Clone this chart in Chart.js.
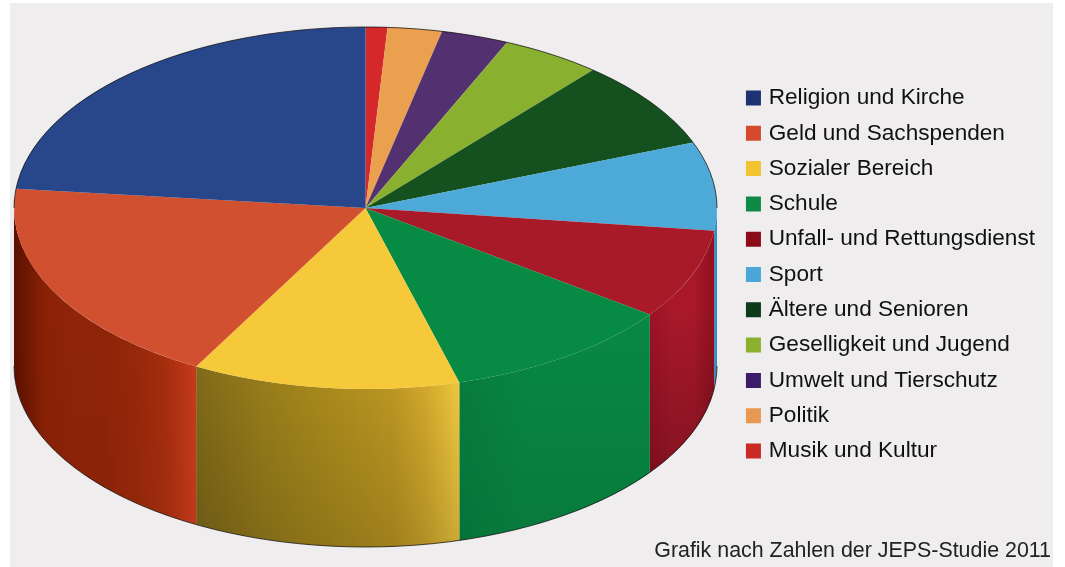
<!DOCTYPE html>
<html lang="de">
<head>
<meta charset="utf-8">
<title>Engagement nach Bereichen</title>
<script src="https://cdn.jsdelivr.net/npm/chart.js@4"></script>
<style>
  html, body { margin: 0; background: #fff; }
  #panel { position: absolute; left: 10px; top: 3px; width: 1043px; height: 564px; background: #efedee; }
  #pie { position: absolute; left: 0; top: 0; }
</style>
</head>
<body>
<div id="panel"></div>
<canvas id="pie" width="1065" height="567"></canvas>
<script>
// Slices run clockwise from twelve o'clock, the legend lists them the other way round
const categories = ['Musik und Kultur', 'Politik', 'Umwelt und Tierschutz', 'Geselligkeit und Jugend',
  'Ältere und Senioren', 'Sport', 'Unfall- und Rettungsdienst', 'Schule', 'Sozialer Bereich',
  'Geld und Sachspenden', 'Religion und Kirche'];
const shares = [1.0, 2.5, 3.1, 4.6, 7.9, 7.9, 8.0, 10.7, 12.3, 18.7, 23.3];
const sourceNote = 'Grafik nach Zahlen der JEPS-Studie 2011';

const topColors = ['#d5282a', '#eba050', '#53306f', '#8ab030', '#15501f', '#4daad8',
  '#a81a28', '#078a44', '#f5c93a', '#d15030', '#27478a'];
const legendColors = ['#c92a26', '#e89850', '#3c1c68', '#8bb030', '#0d3a1a', '#4aa7d7',
  '#8a0c1a', '#0f8a45', '#f3c431', '#d64a2c', '#1e3272'];

// Wall shading, left to right across each visible wall, plus darkening towards the floor
const wallStops = {
  'Sport': ['#2f96cc', '#2a8cc2'],
  'Unfall- und Rettungsdienst': ['#9c1226', '#a8182a', '#a8182a', '#90101f'],
  'Schule': ['#077f3e', '#088843', '#088843', '#088843'],
  'Sozialer Bereich': ['#86701a', '#94791b', '#a0841c', '#aa8c1d', '#b4931e', '#bd9a21', '#c8a025', '#e0b42f', '#fdd442'],
  'Geld und Sachspenden': ['#5a1000', '#8a2106', '#8f2408', '#8f2408', '#97280a', '#a62d0e', '#c63c1c']
};
const wallFade = { 'Sport': 0, 'Unfall- und Rettungsdienst': 0.3, 'Schule': 0.1, 'Sozialer Bereich': 0.2, 'Geld und Sachspenden': 0.04 };

const centerX = 365.5;
const centerY = 208;
const radiusX = 351.5;
const radiusY = 181;
const wallDepth = 158;

const legendShiftX = -6;
const legendShiftY = -14.5;

function wallPath(ctx, from, to) {
  ctx.beginPath();
  ctx.ellipse(centerX, centerY, radiusX, radiusY, 0, from, to);
  ctx.ellipse(centerX, centerY + wallDepth, radiusX, radiusY, 0, to, from, true);
  ctx.closePath();
}

// Draws the cylinder wall and squashes the library's round pie into the top face
const cylinderPlugin = {
  id: 'cylinder',
  afterLayout(chart) {
    // nudge the legend clear of the source note's right edge
    chart.legend.left += legendShiftX;
    chart.legend.right += legendShiftX;
    chart.legend.top += legendShiftY;
    chart.legend.bottom += legendShiftY;
  },
  beforeDatasetsDraw(chart) {
    const ctx = chart.ctx;
    const arcs = chart.getDatasetMeta(0).data;
    arcs.forEach((arc, i) => {
      const from = Math.max(arc.startAngle, 0);
      const to = Math.min(arc.endAngle, Math.PI);
      if (to <= from) return;

      const x1 = centerX + radiusX * Math.cos(to);
      const x2 = centerX + radiusX * Math.cos(from);
      const stops = wallStops[categories[i]];
      const grad = ctx.createLinearGradient(x1, 0, x2, 0);
      stops.forEach((c, k) => grad.addColorStop(k / (stops.length - 1), c));
      wallPath(ctx, from, to);
      ctx.fillStyle = grad;
      ctx.fill();

      const fade = ctx.createLinearGradient(0, centerY + 100, 0, centerY + radiusY + wallDepth);
      fade.addColorStop(0, 'rgba(0,0,0,0)');
      fade.addColorStop(1, `rgba(0,0,0,${wallFade[categories[i]]})`);
      wallPath(ctx, from, to);
      ctx.fillStyle = fade;
      ctx.fill();
    });

    const first = arcs[0];
    ctx.save();
    ctx.translate(centerX, centerY);
    ctx.scale(1, radiusY / radiusX);
    ctx.translate(-first.x, -first.y);
  },
  afterDatasetsDraw(chart) {
    const ctx = chart.ctx;
    ctx.restore();
    // dark rim round the silhouette
    ctx.strokeStyle = 'rgba(15,15,15,0.75)';
    ctx.lineWidth = 1;
    ctx.beginPath();
    ctx.ellipse(centerX, centerY, radiusX, radiusY, 0, Math.PI, 2 * Math.PI);
    ctx.stroke();
    ctx.beginPath();
    ctx.ellipse(centerX, centerY + wallDepth, radiusX, radiusY, 0, 0, Math.PI);
    ctx.stroke();
  }
};

new Chart(document.getElementById('pie'), {
  type: 'pie',
  data: {
    labels: categories,
    datasets: [{
      data: shares,
      backgroundColor: topColors,
      borderWidth: 0,
      radius: radiusX,
      clip: false
    }]
  },
  plugins: [cylinderPlugin],
  options: {
    responsive: false,
    animation: false,
    layout: { padding: { top: 11, right: 14 } },
    plugins: {
      tooltip: { enabled: false },
      title: {
        display: true,
        text: sourceNote,
        position: 'bottom',
        align: 'end',
        color: '#222',
        font: { family: "'Liberation Sans', Arial, sans-serif", size: 21.4, weight: 'normal', lineHeight: 1.2 },
        padding: { top: 4, bottom: 3 }
      },
      legend: {
        position: 'right',
        align: 'center',
        reverse: true,
        labels: {
          boxWidth: 8,
          boxHeight: 8,
          padding: 12.7,
          color: '#111',
          font: { family: "'Liberation Sans', Arial, sans-serif", size: 22.6 },
          // a thick same-colour stroke makes the swatch 15px but keeps it close to its text
          generateLabels(chart) {
            return Chart.overrides.pie.plugins.legend.labels.generateLabels(chart).map(item => ({
              ...item,
              fillStyle: legendColors[item.index],
              strokeStyle: legendColors[item.index],
              lineWidth: 7
            }));
          }
        }
      }
    }
  }
});
</script>
</body>
</html>
